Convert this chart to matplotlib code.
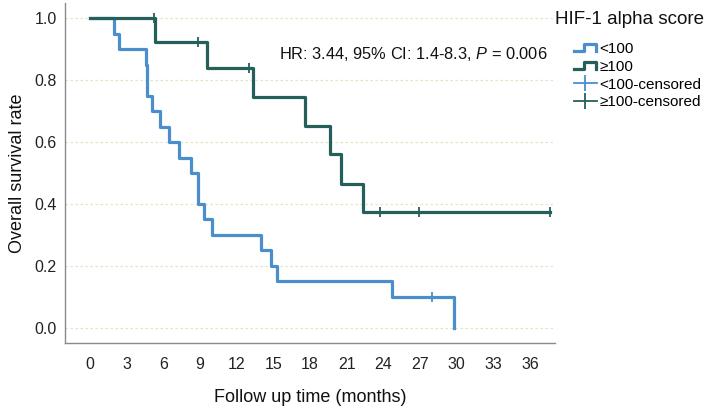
import matplotlib
matplotlib.use("Agg")
import matplotlib.pyplot as plt
from matplotlib.lines import Line2D
from matplotlib.legend_handler import HandlerBase

plt.rcParams['font.family'] = ['Liberation Sans', 'DejaVu Sans']
plt.rcParams['mathtext.fontset'] = 'custom'
plt.rcParams['mathtext.rm'] = 'Liberation Sans'
plt.rcParams['mathtext.it'] = 'Liberation Sans:italic'

# ---- data ----
low_times = [0, 2.0, 2.4, 4.6, 4.7, 5.1, 5.7, 6.5, 7.3, 8.3, 8.8, 9.3, 10.0, 14.0, 14.8, 15.3, 24.7, 29.8]
low_surv = [1.0, 0.95, 0.90, 0.85, 0.75, 0.70, 0.65, 0.60, 0.55, 0.50, 0.40, 0.35, 0.30, 0.25, 0.20, 0.15, 0.10, 0.0]
low_cens_t = [28.0]
low_cens_s = [0.10]

high_times = [0, 5.3, 9.55, 13.3, 17.6, 19.6, 20.5, 22.3, 37.6]
high_surv = [1.0, 0.923, 0.839, 0.746, 0.653, 0.560, 0.466, 0.373, 0.373]
high_cens_t = [5.2, 8.8, 13.0, 23.7, 26.9, 37.6]
high_cens_s = [1.0, 0.923, 0.839, 0.373, 0.373, 0.373]

x_ticks = [0, 3, 6, 9, 12, 15, 18, 21, 24, 27, 30, 33, 36]
y_ticks = [0.0, 0.2, 0.4, 0.6, 0.8, 1.0]
labels = ['<100', '\u2265100', '<100-censored', '\u2265100-censored']

c_low = '#4a8fcb'
c_high = '#255f5a'

fig = plt.figure(figsize=(7.09, 4.11), dpi=100)
ax = fig.add_axes([65/709, 1 - 343/411, (555-65)/709, (343-3)/411])

ax.set_xlim(-2.05, 38.05)
ax.set_ylim(-0.05, 1.05)

for y in y_ticks:
    ax.axhline(y, color='#e6e2c4', lw=0.9, ls=(0, (2, 2)), zorder=0)

ax.step(low_times, low_surv, where='post', color=c_low, lw=2.3, zorder=2)
ax.plot(low_cens_t, low_cens_s, ls='none', marker='|', ms=7, mew=1.3, color=c_low, zorder=3)
ax.step(high_times, high_surv, where='post', color=c_high, lw=2.3, zorder=4)
ax.plot(high_cens_t, high_cens_s, ls='none', marker='|', ms=7, mew=1.3, color=c_high, zorder=5)

ax.set_xticks(x_ticks)
ax.set_xticklabels([str(t) for t in x_ticks])
ax.set_yticks(y_ticks)
ax.set_yticklabels(['%.1f' % v for v in y_ticks])
ax.tick_params(length=0, labelsize=11.5, colors='#222222', pad=10)
ax.tick_params(axis='y', pad=6)
for s in ['top', 'right']:
    ax.spines[s].set_visible(False)
for s in ['left', 'bottom']:
    ax.spines[s].set_color('#8a8a8a')
    ax.spines[s].set_linewidth(1.0)

ax.set_xlabel('Follow up time (months)', fontsize=13, labelpad=12, color='#111111')
ax.set_ylabel('Overall survival rate', fontsize=13, labelpad=6, color='#111111')

ax.text(0.437, 0.85, 'HR: 3.44, 95% CI: 1.4-8.3, $\\mathit{P}$ = 0.006',
        transform=ax.transAxes, fontsize=11.8, color='#111111', ha='left', va='center')


class StepHandler(HandlerBase):
    def create_artists(self, legend, orig_handle, xdescent, ydescent, width, height, fontsize, trans):
        x0 = -xdescent
        y0 = -ydescent
        xs = [x0, x0 + width * 0.45, x0 + width * 0.45, x0 + width * 0.95, x0 + width * 0.95]
        ys = [y0 + height * 0.2, y0 + height * 0.2, y0 + height * 0.85, y0 + height * 0.85, y0 + height * 0.2]
        ln = Line2D(xs, ys, color=orig_handle.get_color(), lw=2.3, transform=trans)
        return [ln]


h1 = Line2D([], [], color=c_low)
h2 = Line2D([], [], color=c_high)
h3 = Line2D([0], [0], color=c_low, lw=1.3, marker='|', ms=12, mew=1.3)
h4 = Line2D([0], [0], color=c_high, lw=1.3, marker='|', ms=12, mew=1.3)

fig.text(555/709, 1 - 19/411, 'HIF-1 alpha score', fontsize=13.5, ha='left', va='center', color='#111111')
fig.legend([h1, h2, h3, h4], labels, loc='upper left', bbox_to_anchor=(574/709, 1 - 42/411),
           frameon=False, fontsize=11, handlelength=1.5, handletextpad=0.15,
           labelspacing=0.25, borderpad=0, borderaxespad=0,
           handler_map={h1: StepHandler(), h2: StepHandler()})

fig.savefig('out.png', dpi=100)
